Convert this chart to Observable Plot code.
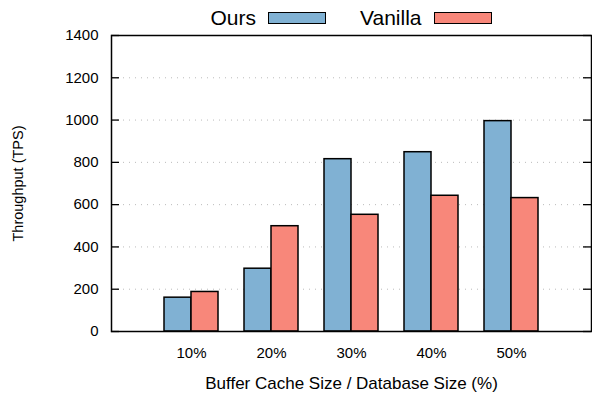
<!DOCTYPE html>
<html>
<head>
<meta charset="utf-8">
<script src="https://cdn.jsdelivr.net/npm/d3@7"></script>
<script src="https://cdn.jsdelivr.net/npm/@observablehq/plot@0.6"></script>
<style>
  html, body { margin: 0; padding: 0; background: #fff; }
  #wrap { position: relative; width: 592px; height: 395px; font-family: "Liberation Sans", Arial, Helvetica, sans-serif; }
  #legend { position: absolute; left: 111px; width: 480px; top: 6px; height: 24px; display: flex; justify-content: center; align-items: center; gap: 34px; font-size: 21px; color: #000; }
  .item { display: flex; align-items: center; gap: 12px; }
  .sw { width: 56px; height: 10px; border: 1.5px solid #000; }
</style>
</head>
<body>
<div id="wrap"><div id="legend"></div></div>
<script>
const categories = ["10%", "20%", "30%", "40%", "50%"];
const seriesNames = ["Ours", "Vanilla"];
const seriesColors = ["#80b1d3", "#f8877a"];
const ours = [160, 297, 815, 848, 995];
const vanilla = [187, 498, 552, 642, 631];
const yTicks = [0, 200, 400, 600, 800, 1000, 1200, 1400];
const xLabel = "Buffer Cache Size / Database Size (%)";
const yLabel = "Throughput (TPS)";

const table = categories.map((c, i) => ({category: c, Ours: ours[i], Vanilla: vanilla[i]}));

const chart = Plot.plot({
  width: 592,
  height: 395,
  marginLeft: 111,
  marginRight: 1,
  marginTop: 35,
  marginBottom: 64,
  style: {fontFamily: '"Liberation Sans", Arial, Helvetica, sans-serif', fontSize: "15px", background: "white", color: "black"},
  x: {type: "band", domain: categories, paddingInner: 0.325, paddingOuter: 0.6625, align: 0.5},
  y: {domain: [0, 1400]},
  marks: [
    Plot.ruleY(yTicks.filter(d => d > 0 && d < 1400), {stroke: "#bbb", strokeWidth: 1, strokeDasharray: "1,5"}),
    Plot.barY(table, {x: "category", y: seriesNames[0], fill: seriesColors[0], stroke: "black", strokeWidth: 1.5, insetRight: 27}),
    Plot.barY(table, {x: "category", y: seriesNames[1], fill: seriesColors[1], stroke: "black", strokeWidth: 1.5, insetLeft: 27}),
    Plot.ruleY(yTicks, {stroke: "black", strokeWidth: 1.3, insetRight: 472}),
    Plot.ruleY(yTicks, {stroke: "black", strokeWidth: 1.3, insetLeft: 472}),
    Plot.frame({stroke: "black", strokeWidth: 1.5}),
    Plot.axisY({ticks: yTicks, tickFormat: d => String(d), tickSize: 0, tickPadding: 13, fontSize: 15, label: null}),
    Plot.axisX({tickSize: 0, tickPadding: 16, fontSize: 15, label: null}),
    Plot.text([xLabel], {frameAnchor: "bottom", textAnchor: "middle", dy: 52, lineAnchor: "middle", fontSize: 17}),
    Plot.text([yLabel], {frameAnchor: "left", textAnchor: "middle", dx: -93, rotate: -90, lineAnchor: "middle", fontSize: 14.5})
  ]
});

document.getElementById("wrap").appendChild(chart);

const legend = document.getElementById("legend");
seriesNames.forEach((name, i) => {
  const item = document.createElement("div");
  item.className = "item";
  const t = document.createElement("span");
  t.textContent = name;
  const sw = document.createElement("div");
  sw.className = "sw";
  sw.style.background = seriesColors[i];
  item.appendChild(t);
  item.appendChild(sw);
  legend.appendChild(item);
});
</script>
</body>
</html>
